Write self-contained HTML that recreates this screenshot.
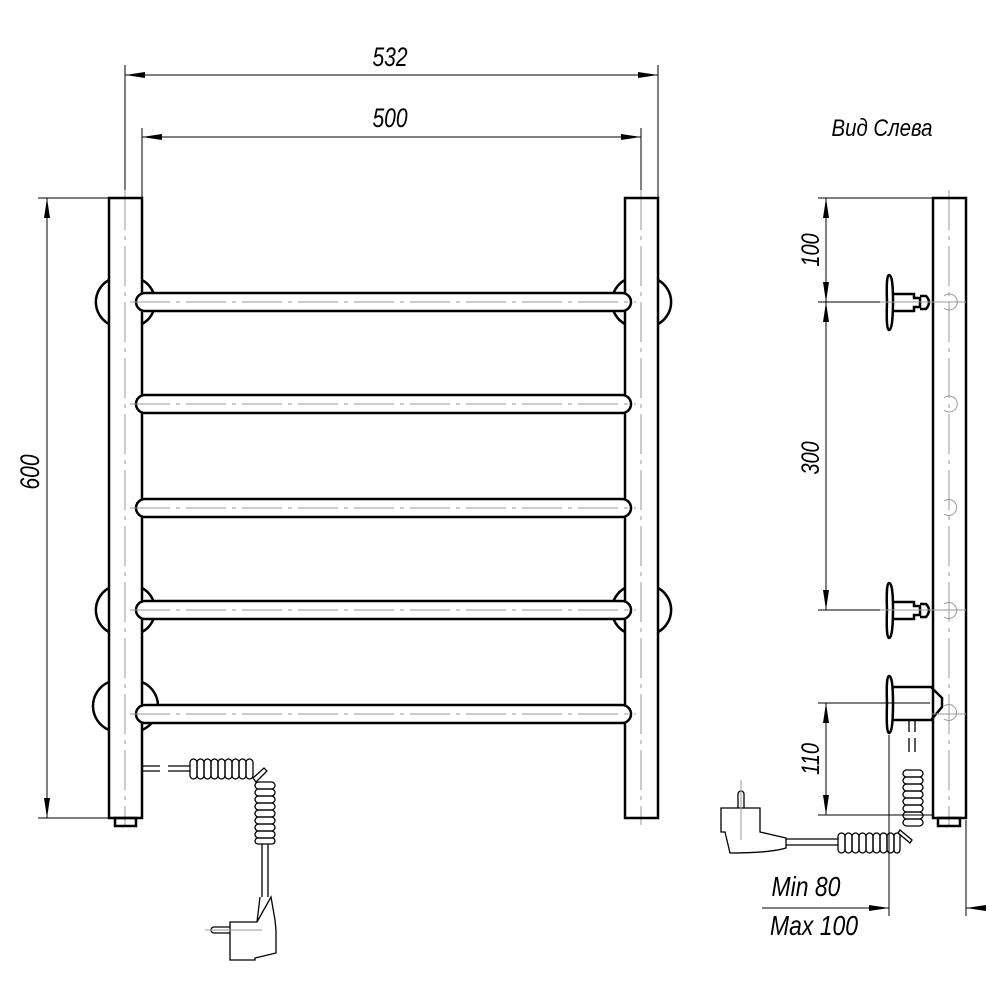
<!DOCTYPE html>
<html><head><meta charset="utf-8"><style>
html,body{margin:0;padding:0;background:#fff}
svg{display:block}
text{font-family:"Liberation Sans",sans-serif;font-style:italic;fill:#000}
</style></head><body>
<svg width="1000" height="1000" viewBox="0 0 1000 1000" xmlns="http://www.w3.org/2000/svg">
<defs>
<marker id="a" viewBox="0 0 20 6" refX="20" refY="3" markerWidth="20" markerHeight="6" markerUnits="userSpaceOnUse" orient="auto-start-reverse"><path d="M0,0 L20,3 L0,6z" fill="#000"/></marker>
</defs>
<g stroke="#000" fill="none" stroke-width="1">
<line x1="125" y1="65" x2="125" y2="198"/>
<line x1="658" y1="65" x2="658" y2="198"/>
<line x1="125" y1="75" x2="658" y2="75" marker-start="url(#a)" marker-end="url(#a)"/>
<line x1="142" y1="128" x2="142" y2="198"/>
<line x1="641" y1="128" x2="641" y2="198"/>
<line x1="142" y1="137" x2="641" y2="137" marker-start="url(#a)" marker-end="url(#a)"/>
<line x1="38" y1="198" x2="109" y2="198"/>
<line x1="38" y1="818" x2="109" y2="818"/>
<line x1="47" y1="198" x2="47" y2="818" marker-start="url(#a)" marker-end="url(#a)"/>
</g>
<text transform="translate(390,66) scale(0.78,1)" font-size="27" text-anchor="middle">532</text>
<text transform="translate(390,127) scale(0.78,1)" font-size="27" text-anchor="middle">500</text>
<text transform="translate(39,472) rotate(-90) scale(0.78,1)" font-size="27" text-anchor="middle">600</text>

<g stroke="#999" stroke-width="1" stroke-dasharray="40,6,4,6" fill="none">
<line x1="125" y1="190" x2="125" y2="825"/>
<line x1="641" y1="190" x2="641" y2="825"/>
<line x1="949" y1="190" x2="949" y2="825"/>
</g>

<g stroke="#000" stroke-width="2.5" fill="none">
<path d="M109,280 A25,25 0 0 0 109,324"/>
<path d="M109,588 A25,25 0 0 0 109,632"/>
<path d="M109,682 A26,26 0 0 0 109,730"/>
<path d="M142,280 A25,25 0 0 1 142,324"/>
<path d="M142,588 A25,25 0 0 1 142,632"/>
<path d="M142,682 A26,26 0 0 1 142,730"/>
<path d="M658,280 A25,25 0 0 1 658,324"/>
<path d="M658,588 A25,25 0 0 1 658,632"/>
<path d="M625,280 A25,25 0 0 0 625,324"/>
<path d="M625,588 A25,25 0 0 0 625,632"/>
</g>
<g stroke="#000" stroke-width="2.5" fill="none">
<rect x="109" y="198" width="33" height="620"/>
<rect x="625" y="198" width="33" height="620"/>
<rect x="115" y="818" width="21" height="8"/>
<rect x="136" y="293" width="495" height="18" rx="9" fill="#fff"/>
<rect x="136" y="395" width="495" height="18" rx="9" fill="#fff"/>
<rect x="136" y="499" width="495" height="18" rx="9" fill="#fff"/>
<rect x="136" y="601" width="495" height="18" rx="9" fill="#fff"/>
<rect x="136" y="705" width="495" height="18" rx="9" fill="#fff"/>
</g>
<g stroke="#999" stroke-width="1" stroke-dasharray="40,6,4,6">
<line x1="130" y1="302" x2="636" y2="302"/>
<line x1="130" y1="404" x2="636" y2="404"/>
<line x1="130" y1="508" x2="636" y2="508"/>
<line x1="130" y1="610" x2="636" y2="610"/>
<line x1="130" y1="714" x2="636" y2="714"/>
</g>

<g stroke="#000" stroke-width="1.3" fill="none">
<path d="M142,766 H160 M168,766 H190 M142,771 H160 M168,771 H190"/>
<rect x="190" y="759" width="7" height="20" rx="3.5"/>
<rect x="197" y="759" width="7" height="20" rx="3.5"/>
<rect x="204" y="759" width="7" height="20" rx="3.5"/>
<rect x="211" y="759" width="7" height="20" rx="3.5"/>
<rect x="218" y="759" width="7" height="20" rx="3.5"/>
<rect x="225" y="759" width="7" height="20" rx="3.5"/>
<rect x="232" y="759" width="7" height="20" rx="3.5"/>
<rect x="239" y="759" width="7" height="20" rx="3.5"/>
<rect x="246" y="759" width="7" height="20" rx="3.5"/>
<path d="M253,778 L264,768 L267,771 L256,782 Z"/>
<rect x="255" y="782" width="20" height="7" rx="3.5"/>
<rect x="255" y="789" width="20" height="7" rx="3.5"/>
<rect x="255" y="796" width="20" height="7" rx="3.5"/>
<rect x="255" y="803" width="20" height="7" rx="3.5"/>
<rect x="255" y="810" width="20" height="7" rx="3.5"/>
<rect x="255" y="817" width="20" height="7" rx="3.5"/>
<rect x="255" y="824" width="20" height="7" rx="3.5"/>
<rect x="255" y="831" width="20" height="7" rx="3.5"/>
<rect x="255" y="838" width="20" height="6" rx="3"/>
<path d="M262,844 V897 M268,844 V897"/>
<path d="M260,897 L257,922 M257,922 H230 V960 H255 V958 L276,953 V930 L275,920 L271,897 Z"/>
<path d="M230,927 H214 A3,3 0 0 0 214,933 H230"/>
</g>
<line x1="205" y1="930" x2="262" y2="930" stroke="#999" stroke-width="1"/>

<text transform="translate(882,136) scale(0.85,1)" font-size="24" text-anchor="middle">Вид Слева</text>
<g stroke="#000" stroke-width="1" fill="none">
<line x1="818" y1="198" x2="933" y2="198"/>
<line x1="818" y1="302" x2="920" y2="302"/>
<line x1="818" y1="610" x2="920" y2="610"/>
<line x1="818" y1="703" x2="930" y2="703"/>
<line x1="818" y1="815" x2="933" y2="815"/>
<line x1="826" y1="198" x2="826" y2="302" marker-start="url(#a)" marker-end="url(#a)"/>
<line x1="826" y1="302" x2="826" y2="610" marker-start="url(#a)" marker-end="url(#a)"/>
<line x1="826" y1="703" x2="826" y2="815" marker-start="url(#a)" marker-end="url(#a)"/>
<line x1="889" y1="735" x2="889" y2="916"/>
<line x1="966" y1="820" x2="966" y2="916"/>
<line x1="762" y1="908" x2="889" y2="908" marker-end="url(#a)"/>
<line x1="986" y1="908" x2="966" y2="908" marker-end="url(#a)"/>
</g>
<text transform="translate(819,250) rotate(-90) scale(0.8,1)" font-size="25" text-anchor="middle">100</text>
<text transform="translate(819,458) rotate(-90) scale(0.8,1)" font-size="25" text-anchor="middle">300</text>
<text transform="translate(819,759) rotate(-90) scale(0.8,1)" font-size="25" text-anchor="middle">110</text>
<text transform="translate(806,896) scale(0.82,1)" font-size="28" text-anchor="middle">Min 80</text>
<text transform="translate(814,935) scale(0.82,1)" font-size="28" text-anchor="middle">Max 100</text>

<g stroke="#000" stroke-width="2.5" fill="none">
<rect x="933" y="198" width="33" height="620"/>
<rect x="938" y="818" width="22" height="8"/>
<path d="M889,275 Q893,275 893,300 Q893,330 889,330 Q886,330 887,302 Q886,275 889,275Z"/>
<path d="M893,294 H914 V298 H920 V307 H914 V311 H893"/>
<path d="M920,296 H926 Q932,302 926,309 H920"/>
<path d="M889,583 Q893,583 893,608 Q893,638 889,638 Q886,638 887,610 Q886,583 889,583Z"/>
<path d="M893,602 H914 V606 H920 V615 H914 V619 H893"/>
<path d="M920,604 H926 Q932,610 926,617 H920"/>
<path d="M889,676 Q893,676 893,703 Q893,733 889,733 Q886,733 887,703 Q886,676 889,676Z"/>
<path d="M893,687 H931 L942,698 L942,707 L931,720 H893"/>
</g>
<g stroke="#999" stroke-width="1" fill="none">
<path d="M944,296 A8,8 0 1 1 944,308"/>
<path d="M944,398 A8,8 0 1 1 944,410"/>
<path d="M944,501 A8,8 0 1 1 944,514"/>
<path d="M944,604 A8,8 0 1 1 944,617"/>
<path d="M944,706 A8,8 0 1 1 944,719"/>
<line x1="880" y1="302" x2="966" y2="302"/>
<line x1="880" y1="610" x2="966" y2="610"/>
<line x1="932" y1="714" x2="966" y2="714"/>
</g>
<g stroke="#000" stroke-width="1.3" fill="none">
<path d="M909,720 V732 M909,738 V752 M915,720 V732 M915,738 V752"/>
<rect x="903" y="770" width="20" height="7" rx="3.5"/>
<rect x="903" y="777" width="20" height="7" rx="3.5"/>
<rect x="903" y="784" width="20" height="7" rx="3.5"/>
<rect x="903" y="791" width="20" height="7" rx="3.5"/>
<rect x="903" y="798" width="20" height="7" rx="3.5"/>
<rect x="903" y="805" width="20" height="7" rx="3.5"/>
<rect x="903" y="812" width="20" height="7" rx="3.5"/>
<rect x="903" y="819" width="20" height="7" rx="3.5"/>
<path d="M900,830 L912,840 L910,843 L898,833Z"/>
<rect x="838" y="833" width="7" height="20" rx="3.5"/>
<rect x="845" y="833" width="7" height="20" rx="3.5"/>
<rect x="852" y="833" width="7" height="20" rx="3.5"/>
<rect x="859" y="833" width="7" height="20" rx="3.5"/>
<rect x="866" y="833" width="7" height="20" rx="3.5"/>
<rect x="873" y="833" width="7" height="20" rx="3.5"/>
<rect x="880" y="833" width="7" height="20" rx="3.5"/>
<rect x="887" y="833" width="7" height="20" rx="3.5"/>
<rect x="894" y="833" width="6" height="20" rx="3"/>
<path d="M786,839 H838 M786,845 H838"/>
<path d="M721,808 H760 V832 L786,838 V848 Q770,853 730,853 L725,832 H721 Z"/>
<path d="M738,808 V794 A3,3 0 0 1 744,794 V808"/>
</g>
<line x1="741" y1="780" x2="741" y2="840" stroke="#999" stroke-width="1"/>
</svg>
</body></html>
